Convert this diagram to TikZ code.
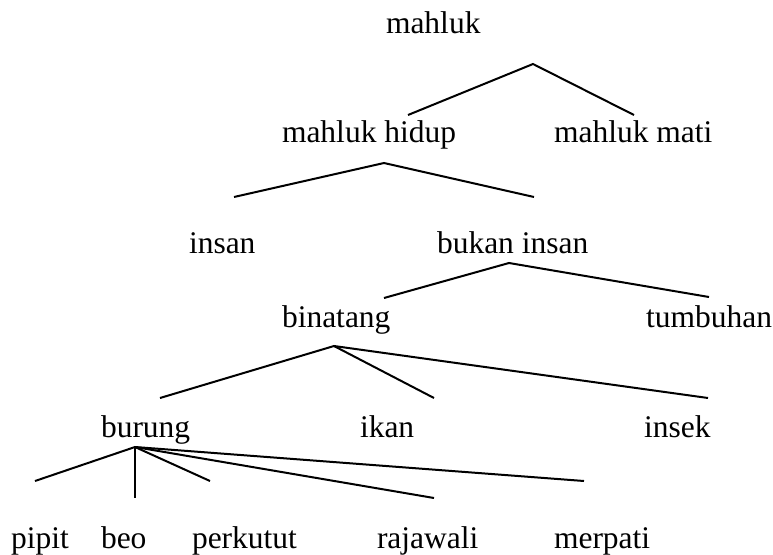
\documentclass[tikz,border=0pt]{standalone}
\usepackage{fontspec}
\setmainfont{Liberation Serif}
\begin{document}
\begin{tikzpicture}[x=1pt,y=-1pt,
  term/.style={anchor=base west,inner sep=0pt,outer sep=0pt,
    font=\fontsize{31.5}{36}\selectfont},
  branch/.style={line width=2pt,line cap=butt,line join=miter}]
\useasboundingbox (0,0) rectangle (773,554);

% labels
\node[term] (mahluk)   at (386,33)  {mahluk};
\node[term] (hidup)    at (282,142) {mahluk hidup};
\node[term] (mati)     at (554,142) {mahluk mati};
\node[term] (insan)    at (189,253) {insan};
\node[term] (bukan)    at (437,253) {bukan insan};
\node[term] (binatang) at (282,327) {binatang};
\node[term] (tumbuhan) at (646,327) {tumbuhan};
\node[term] (burung)   at (101,437) {burung};
\node[term] (ikan)     at (360,437) {ikan};
\node[term] (insek)    at (644,437) {insek};
\node[term] (pipit)    at (11,548)  {pipit};
\node[term] (beo)      at (101,548) {beo};
\node[term] (perkutut) at (192,548) {perkutut};
\node[term] (rajawali) at (377,548) {rajawali};
\node[term] (merpati)  at (554,548) {merpati};

% branching points and branch ends
\coordinate (jMahluk) at (533,64);
\coordinate (eHidup)  at (408,115);
\coordinate (eMati)   at (634,115);

\coordinate (jHidup)  at (384,163);
\coordinate (eInsan)  at (234,197);
\coordinate (eBukan)  at (534,197);

\coordinate (jBukan)    at (509,263);
\coordinate (eBinatang) at (384,298);
\coordinate (eTumbuhan) at (709,297);

\coordinate (jBinatang) at (334,346);
\coordinate (eBurung)   at (160,398);
\coordinate (eIkan)     at (434,398);
\coordinate (eInsek)    at (708,398);

\coordinate (jBurung)   at (135,447);
\coordinate (ePipit)    at (35,481);
\coordinate (eBeo)      at (135,498);
\coordinate (ePerkutut) at (210,481);
\coordinate (eRajawali) at (434,498);
\coordinate (eMerpati)  at (584,481);

% branches
\draw[branch] (eHidup) -- (jMahluk) -- (eMati);
\draw[branch] (eInsan) -- (jHidup) -- (eBukan);
\draw[branch] (eBinatang) -- (jBukan) -- (eTumbuhan);
\draw[branch] (eBurung) -- (jBinatang) -- (eInsek);
\draw[branch] (jBinatang) -- (eIkan);
\draw[branch] (ePipit) -- (jBurung) -- (eMerpati);
\draw[branch] (jBurung) -- (eBeo);
\draw[branch] (jBurung) -- (ePerkutut);
\draw[branch] (jBurung) -- (eRajawali);
\end{tikzpicture}
\end{document}
